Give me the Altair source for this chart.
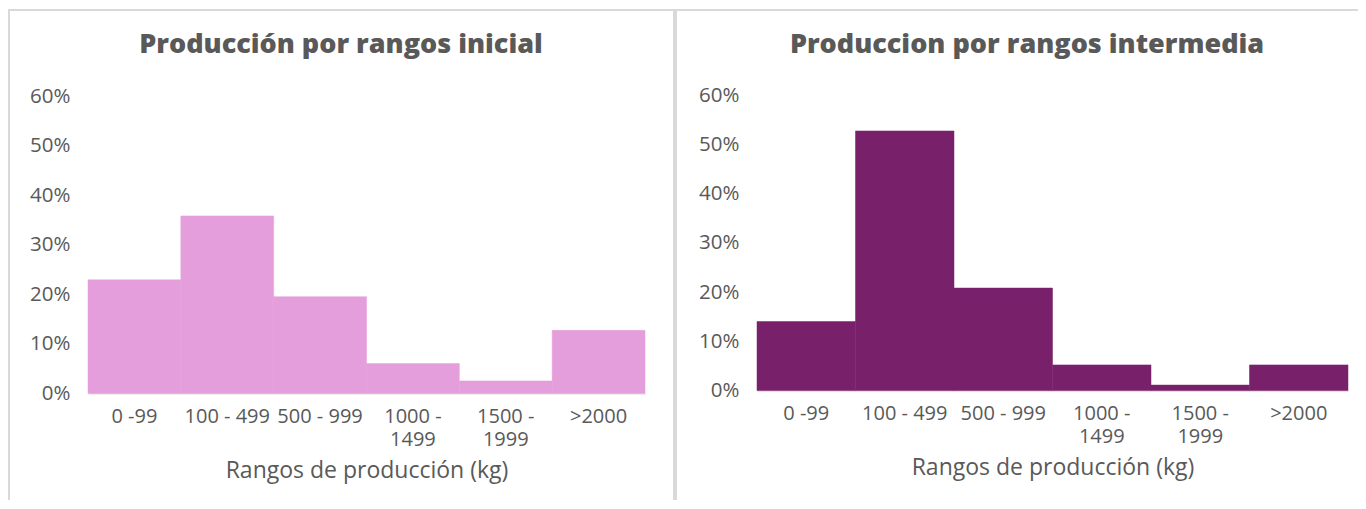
import altair as alt
import pandas as pd

# ---- data ----
categories = ["0 -99", "100 - 499", "500 - 999", "1000 - 1499", "1500 - 1999", ">2000"]
inicial = [22.9, 35.8, 19.5, 6.0, 2.5, 12.7]        # % producers, baseline
intermedia = [14.0, 52.7, 20.8, 5.2, 1.1, 5.2]      # % producers, midline
y_ticks = [0, 10, 20, 30, 40, 50, 60]
main_title = "Gráfica 3.Comparación línea base e intermedia de la producción de cacao"
title_left = "Producción por rangos inicial"
title_right = "Produccion por rangos intermedia"
x_title = "Rangos de producción (kg)"

FONT = "Open Sans"
GRAY = "#595959"
BORDER = "#d9d9d9"
PINK = "#e49edb"
PURPLE = "#79206b"

W, H = 1350, 492   # whole figure (plot area spans the figure; autosize none)

one = pd.DataFrame({"k": [0]})

LABEL_EXPR = ("length(datum.label) > 9 ? [slice(datum.label, 0, 6), slice(datum.label, 7)] "
              ": datum.label")


def bars(values, color, xr, yr):
    df = pd.DataFrame({"rango": categories, "pct": values})
    x = alt.X(
        "rango:N",
        sort=categories,
        scale=alt.Scale(range=xr, paddingInner=0, paddingOuter=0),
        axis=alt.Axis(
            orient="bottom",
            offset=yr[0] - H,
            title=x_title,
            labelAngle=0,
            labelExpr=LABEL_EXPR,
            labelFont=FONT,
            labelFontSize=20,
            labelColor=GRAY,
            labelPadding=13,
            labelLineHeight=23,
            labelBaseline="top",
            ticks=False,
            domain=True,
            domainColor=BORDER,
            domainWidth=1.5,
            grid=False,
            titleFont=FONT,
            titleFontSize=23,
            titleFontWeight="normal",
            titleColor=GRAY,
            titlePadding=10,
        ),
    )
    y = alt.Y(
        "pct:Q",
        scale=alt.Scale(domain=[0, 60], nice=False, range=yr),
        axis=alt.Axis(
            orient="left",
            offset=-xr[0],
            title=None,
            values=y_ticks,
            labelExpr="datum.value + '%'",
            labelFont=FONT,
            labelFontSize=20.5,
            labelColor=GRAY,
            labelPadding=18,
            ticks=False,
            domain=False,
            grid=False,
        ),
    )
    return alt.Chart(df).mark_bar(color=color, stroke=color, strokeWidth=0.5).encode(x=x, y=y)


left_bars = bars(inicial, PINK, [80, 637], [385.3, 88])
right_bars = bars(intermedia, PURPLE, [749, 1340], [382.5, 87])

top_rule = alt.Chart(one).mark_rule(color=BORDER, strokeWidth=2).encode(
    x=alt.value(0), x2=alt.value(W), y=alt.value(2))
left_rule = alt.Chart(one).mark_rule(color=BORDER, strokeWidth=2).encode(
    x=alt.value(1), y=alt.value(2), y2=alt.value(H))
mid_rule = alt.Chart(one).mark_rule(color=BORDER, strokeWidth=4).encode(
    x=alt.value(667), y=alt.value(2), y2=alt.value(H))


def panel_title(text, px, py):
    return alt.Chart(one).mark_text(
        text=text, font=FONT, fontSize=27, fontWeight=800, color=GRAY,
        align="center", baseline="middle"
    ).encode(x=alt.value(px), y=alt.value(py))


# figure caption: lies above the visible page, as in the reference where it is cut off
caption = alt.Chart(one).mark_text(
    text=main_title, font=FONT, fontSize=20, fontStyle="italic", color="#404040",
    align="center", baseline="alphabetic"
).encode(x=alt.value(699), y=alt.value(-7))

chart = alt.layer(
    left_bars, right_bars, top_rule, left_rule, mid_rule,
    panel_title(title_left, 333, 37), panel_title(title_right, 1019, 37), caption,
).resolve_scale(x="independent", y="independent").resolve_axis(
    x="independent", y="independent"
).properties(
    width=W, height=H, padding=0, autosize=alt.AutoSizeParams(type="none")
).configure_view(stroke=None)

chart.save("out.html", embed_options={"renderer": "svg", "actions": False})
